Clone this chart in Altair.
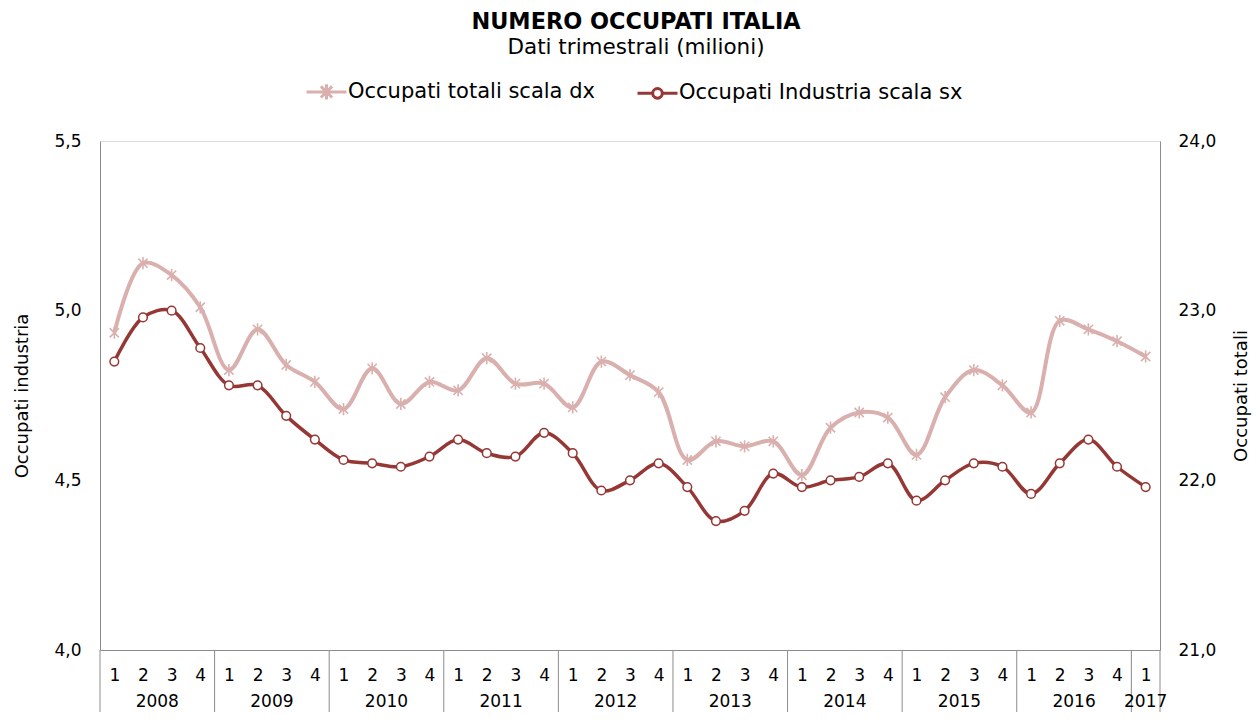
import altair as alt
import pandas as pd

# ---- data ----
quarters = ["1", "2", "3", "4"] * 9 + ["1"]
year_labels = ["2008", "2009", "2010", "2011", "2012", "2013", "2014", "2015", "2016", "2017"]
year_centers = [1.5, 5.5, 9.5, 13.5, 17.5, 21.5, 25.5, 29.5, 33.5, 36.0]
year_bounds = [-0.5, 3.5, 7.5, 11.5, 15.5, 19.5, 23.5, 27.5, 31.5, 35.5, 36.5]

industria = [4.85, 4.98, 5.00, 4.89, 4.78, 4.78, 4.69, 4.62,
             4.56, 4.55, 4.54, 4.57, 4.62, 4.58, 4.57, 4.64,
             4.58, 4.47, 4.50, 4.55, 4.48, 4.38, 4.41, 4.52,
             4.48, 4.50, 4.51, 4.55, 4.44, 4.50, 4.55, 4.54,
             4.46, 4.55, 4.62, 4.54, 4.48]
totali = [22.87, 23.28, 23.21, 23.02, 22.65, 22.89, 22.68, 22.58,
          22.42, 22.66, 22.45, 22.58, 22.53, 22.72, 22.57, 22.57,
          22.43, 22.70, 22.62, 22.52, 22.12, 22.23, 22.20, 22.23,
          22.03, 22.31, 22.40, 22.37, 22.15, 22.49, 22.65, 22.56,
          22.40, 22.94, 22.89, 22.82, 22.73]

series_names = ["Occupati totali scala dx", "Occupati Industria scala sx"]

FONT = "DejaVu Sans"
C_TOT = "#D9B0AE"
C_IND = "#953735"
AX = "#8C8C8C"
W, H = 1060, 509

df = pd.DataFrame({"idx": list(range(len(industria))), "q": quarters,
                   "industria": industria, "totali": totali})
years_df = pd.DataFrame({"idx": year_centers, "label": year_labels})
bounds_df = pd.DataFrame({"idx": year_bounds})
legend_df = pd.DataFrame({"serie": series_names, "idx": [0, 0], "industria": [4.5, 4.5]})

x_scale = alt.Scale(domain=[-0.5, 36.5], nice=False, zero=False)
quarter_expr = "[" + ",".join("'%s'" % q for q in quarters) + "][datum.value]"

x_axis = alt.Axis(values=list(range(len(quarters))), labelExpr=quarter_expr, ticks=False,
                  grid=False, domainColor=AX, domainWidth=1, labelFont=FONT, labelFontSize=17,
                  labelColor="black", labelPadding=17, labelOverlap=False, labelFlush=False,
                  title=None)
X = alt.X("idx:Q", scale=x_scale, axis=x_axis)

fmt = "replace(format(datum.value, '.1f'), '.', ',')"
left_axis = alt.Axis(values=[4.0, 4.5, 5.0, 5.5], labelExpr=fmt,
                     ticks=False, grid=False, domainColor=AX, labelFont=FONT, labelFontSize=17,
                     labelColor="black", labelPadding=19, title="Occupati industria",
                     titleFont=FONT, titleFontSize=18, titleFontWeight="normal", titleColor="black",
                     titlePadding=22, orient="left")
right_axis = alt.Axis(values=[21.0, 22.0, 23.0, 24.0], labelExpr=fmt,
                      ticks=False, grid=False, domainColor=AX, labelFont=FONT, labelFontSize=17,
                      labelColor="black", labelPadding=18, title="Occupati totali",
                      titleFont=FONT, titleFontSize=18, titleFontWeight="normal", titleColor="black",
                      titlePadding=35, titleAngle=270, titleBaseline="bottom", orient="right")

y_left = alt.Scale(domain=[4.0, 5.5], nice=False, zero=False)
y_right = alt.Scale(domain=[21.0, 24.0], nice=False, zero=False)
YL = alt.Y("industria:Q", scale=y_left, axis=left_axis)
YR = alt.Y("totali:Q", scale=y_right, axis=right_axis)

base = alt.Chart(df)

tot_line = base.mark_line(interpolate="catmull-rom", color=C_TOT, strokeWidth=4).encode(x=X, y=YR)
star = "M-0.75,-0.75L0.75,0.75M-0.75,0.75L0.75,-0.75M0,-1L0,1"
tot_pts = base.mark_point(shape=star, size=150, color=C_TOT, strokeWidth=1.6, opacity=1).encode(x=X, y=YR)
totali_layer = alt.layer(tot_line, tot_pts)

ind_line = base.mark_line(interpolate="catmull-rom", color=C_IND, strokeWidth=3.5).encode(x=X, y=YL)
ind_pts = base.mark_point(shape="circle", size=75, fill="white", stroke=C_IND, strokeWidth=1.5,
                          opacity=1, fillOpacity=1).encode(x=X, y=YL)

seps = alt.Chart(bounds_df).mark_rule(color=AX, strokeWidth=1).encode(
    x=X, y=alt.value(H), y2=alt.value(H + 62))
yrs = alt.Chart(years_df).mark_text(font=FONT, fontSize=17, color="black", baseline="middle").encode(
    x=X, y=alt.value(H + 52), text="label:N")

leg_tot = "M-1,0L1,0M-0.28,-0.28L0.28,0.28M-0.28,0.28L0.28,-0.28M0,-0.38L0,0.38"
leg_ind = ("M-1,0L-0.24,0M0.24,0L1,0M0.24,0A0.24,0.24 0 1 1 -0.24,0"
           "A0.24,0.24 0 1 1 0.24,0Z")
leg_props = dict(orient="none", legendX=205, legendY=-71, direction="horizontal",
                 title=None, symbolSize=1600, symbolStrokeWidth=3,
                 symbolFillColor="white", labelFont=FONT, labelFontSize=21,
                 labelColor="black", labelOffset=0, columnPadding=36,
                 padding=0, labelLimit=400)
legend_layer = alt.Chart(legend_df).mark_point(fill="white", strokeWidth=3, opacity=1).encode(
    x=X, y=YL,
    stroke=alt.Stroke("serie:N", scale=alt.Scale(domain=series_names, range=[C_TOT, C_IND]),
                      legend=alt.Legend(**leg_props)),
    shape=alt.Shape("serie:N", scale=alt.Scale(domain=series_names, range=[leg_tot, leg_ind]),
                    legend=alt.Legend(**leg_props)),
).transform_filter("false")

industria_layer = alt.layer(ind_line, ind_pts, seps, yrs, legend_layer)

chart = alt.layer(totali_layer, industria_layer).resolve_scale(y="independent").properties(
    width=W, height=H,
    title=alt.TitleParams(text="NUMERO OCCUPATI ITALIA", subtitle="Dati trimestrali (milioni)",
                          anchor="middle", frame="group", font=FONT, fontSize=22.4, fontWeight="bold",
                          color="black", subtitleFont=FONT, subtitleFontSize=21.5,
                          subtitleColor="black", offset=12, dx=6, subtitlePadding=3),
    autosize=alt.AutoSizeParams(type="none"),
    padding={"left": 92, "top": 133, "right": 92, "bottom": 62},
).configure_view(strokeWidth=0).configure(background="white")

chart.save("out.html", embed_options={"renderer": "svg", "actions": False})
